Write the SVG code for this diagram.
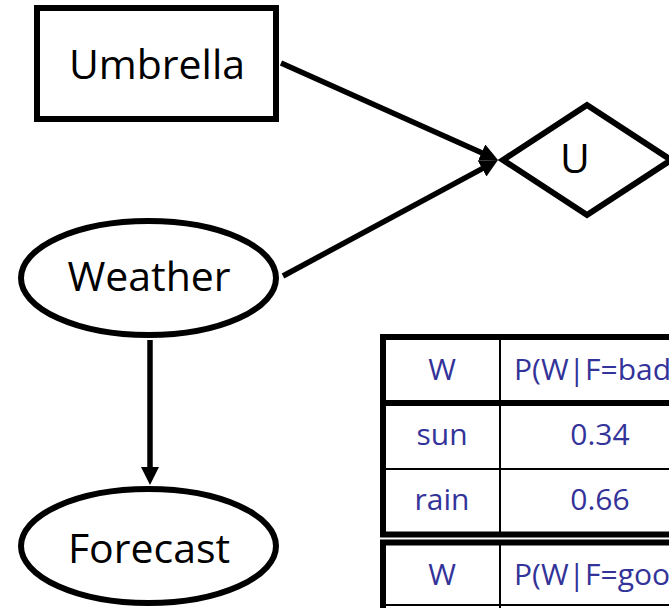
<svg xmlns="http://www.w3.org/2000/svg" width="669" height="608" viewBox="0 0 669 608">
  <style>
    .node { fill: #ffffff; stroke: #000000; stroke-width: 6; }
    .label { font-family: "Open Sans", "Liberation Sans", sans-serif; font-size: 41px; fill: #000000; text-anchor: middle; }
    .edge { stroke: #000000; stroke-width: 5.5; fill: none; marker-end: url(#arrow); }
    .thick { stroke: #000000; stroke-width: 6; }
    .thin { stroke: #000000; stroke-width: 2; }
    .cell { font-family: "Open Sans", "Liberation Sans", sans-serif; font-size: 30px; fill: #333399; text-anchor: middle; }
    .cell-start { font-family: "Open Sans", "Liberation Sans", sans-serif; font-size: 30px; fill: #333399; text-anchor: start; }
  </style>
  <defs>
    <marker id="arrow" markerUnits="userSpaceOnUse" markerWidth="18" markerHeight="18" refX="8" refY="9" orient="auto">
      <path d="M0,0 L18,9 L0,18 z" fill="#000000"/>
    </marker>
  </defs>
  <rect width="669" height="608" fill="#ffffff"/>

  <g id="connectors">
    <line class="edge" x1="281" y1="63" x2="488.9" y2="155.9"/>
    <line class="edge" x1="283" y1="276" x2="489.2" y2="164.8"/>
    <line class="edge" x1="150" y1="340" x2="150" y2="475"/>
  </g>

  <g id="umbrella">
    <rect class="node" x="37" y="8" width="239" height="111"/>
    <text class="label" x="157" y="79">Umbrella</text>
  </g>

  <g id="utility">
    <path class="node" d="M503,160 L587,105 L671,160 L587,215 Z" stroke-width="5.5"/>
    <text class="label" x="575" y="173">U</text>
  </g>

  <g id="weather">
    <ellipse class="node" cx="148.5" cy="278" rx="127.5" ry="57"/>
    <text class="label" x="149" y="291">Weather</text>
  </g>

  <g id="forecast">
    <ellipse class="node" cx="148.5" cy="546" rx="127.5" ry="57"/>
    <text class="label" x="149" y="563">Forecast</text>
  </g>

  <g id="table-bad">
    <rect x="383" y="337" width="300" height="197" fill="#ffffff"/>
    <line class="thin" x1="500" y1="334" x2="500" y2="537"/>
    <line class="thin" x1="383" y1="469" x2="669" y2="469"/>
    <line class="thick" x1="380" y1="337" x2="669" y2="337"/>
    <line class="thick" x1="380" y1="403" x2="669" y2="403"/>
    <line class="thick" x1="380" y1="534.5" x2="669" y2="534.5" stroke-width="5"/>
    <line class="thick" x1="383" y1="334" x2="383" y2="537"/>
    <text class="cell" x="442" y="380">W</text>
    <text class="cell-start" x="514" y="380">P(W|F=bad)</text>
    <text class="cell" x="442" y="445">sun</text>
    <text class="cell" x="600" y="445">0.34</text>
    <text class="cell" x="442" y="510">rain</text>
    <text class="cell" x="600" y="510">0.66</text>
  </g>

  <g id="table-good">
    <rect x="383" y="542" width="300" height="66" fill="#ffffff"/>
    <line class="thin" x1="500" y1="540" x2="500" y2="608"/>
    <line class="thin" x1="383" y1="605" x2="669" y2="605"/>
    <line class="thick" x1="380" y1="542.5" x2="669" y2="542.5" stroke-width="5"/>
    <line class="thick" x1="383" y1="540" x2="383" y2="608"/>
    <text class="cell" x="442" y="585">W</text>
    <text class="cell-start" x="514" y="585">P(W|F=good)</text>
  </g>
</svg>
